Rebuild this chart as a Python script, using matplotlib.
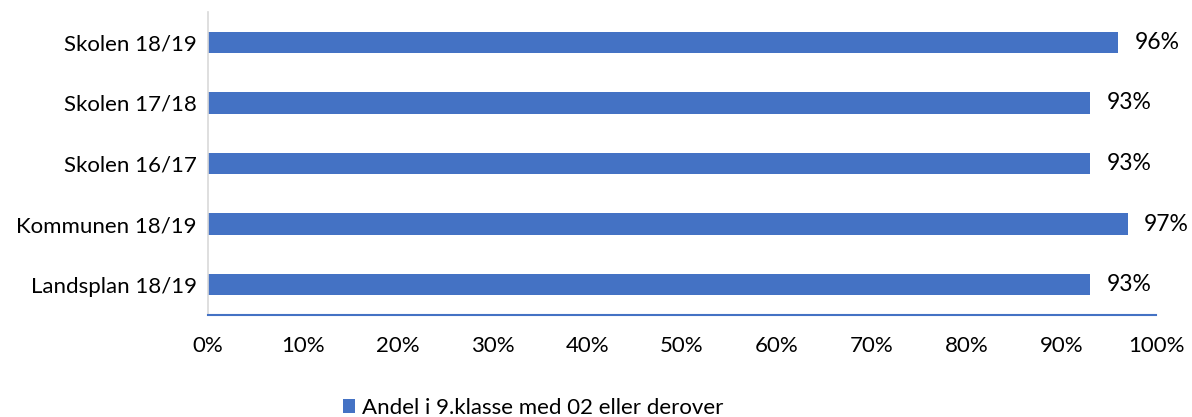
import matplotlib
matplotlib.use("Agg")
import matplotlib.pyplot as plt
from matplotlib.patches import Patch

# values (top to bottom)
categories = ["Skolen 18/19", "Skolen 17/18", "Skolen 16/17", "Kommunen 18/19", "Landsplan 18/19"]
values = [0.96, 0.93, 0.93, 0.97, 0.93]
value_labels = ["96%", "93%", "93%", "97%", "93%"]
xticks = [0, 0.1, 0.2, 0.3, 0.4, 0.5, 0.6, 0.7, 0.8, 0.9, 1.0]
xtick_labels = ["0%", "10%", "20%", "30%", "40%", "50%", "60%", "70%", "80%", "90%", "100%"]
series_name = "Andel i 9.klasse med 02 eller derover"

BLUE = "#4472C4"
plt.rcParams["font.family"] = ["Lato", "DejaVu Sans"]
plt.rcParams["text.color"] = "#000000"


def main() -> None:
    fig = plt.figure(figsize=(11.92, 4.17), dpi=100)
    ax = fig.add_axes([208 / 1192, 1 - 315 / 417, (1156 - 208) / 1192, (315 - 12) / 417])

    ypos = list(range(len(categories)))[::-1]
    ax.barh(ypos, values, height=0.35, color=BLUE)
    for y, v, lab in zip(ypos, values, value_labels):
        ax.annotate(lab, (v, y), xytext=(12, 0), textcoords="offset points",
                    ha="left", va="center", fontsize=16.5)

    ax.set_xlim(0, 1)
    ax.set_ylim(-0.5, len(categories) - 0.5)
    ax.set_yticks(ypos)
    ax.set_yticklabels(categories)
    ax.set_xticks(xticks)
    ax.set_xticklabels(xtick_labels)
    ax.tick_params(axis="both", length=0, labelsize=16)
    ax.tick_params(axis="x", pad=15)
    ax.tick_params(axis="y", pad=8)

    for side in ("top", "right"):
        ax.spines[side].set_visible(False)
    ax.spines["left"].set_color("#d9d9d9")
    ax.spines["left"].set_linewidth(1.2)
    ax.spines["bottom"].set_color(BLUE)
    ax.spines["bottom"].set_linewidth(1.5)

    handle = Patch(facecolor=BLUE, label=series_name)
    fig.legend(handles=[handle], loc="center left", bbox_to_anchor=(343 / 1192, 1 - 408 / 417),
               frameon=False, fontsize=16, handlelength=0.55, handleheight=0.55,
               handletextpad=0.3, borderaxespad=0, borderpad=0)

    fig.savefig("out.png", dpi=100)


if __name__ == "__main__":
    main()
